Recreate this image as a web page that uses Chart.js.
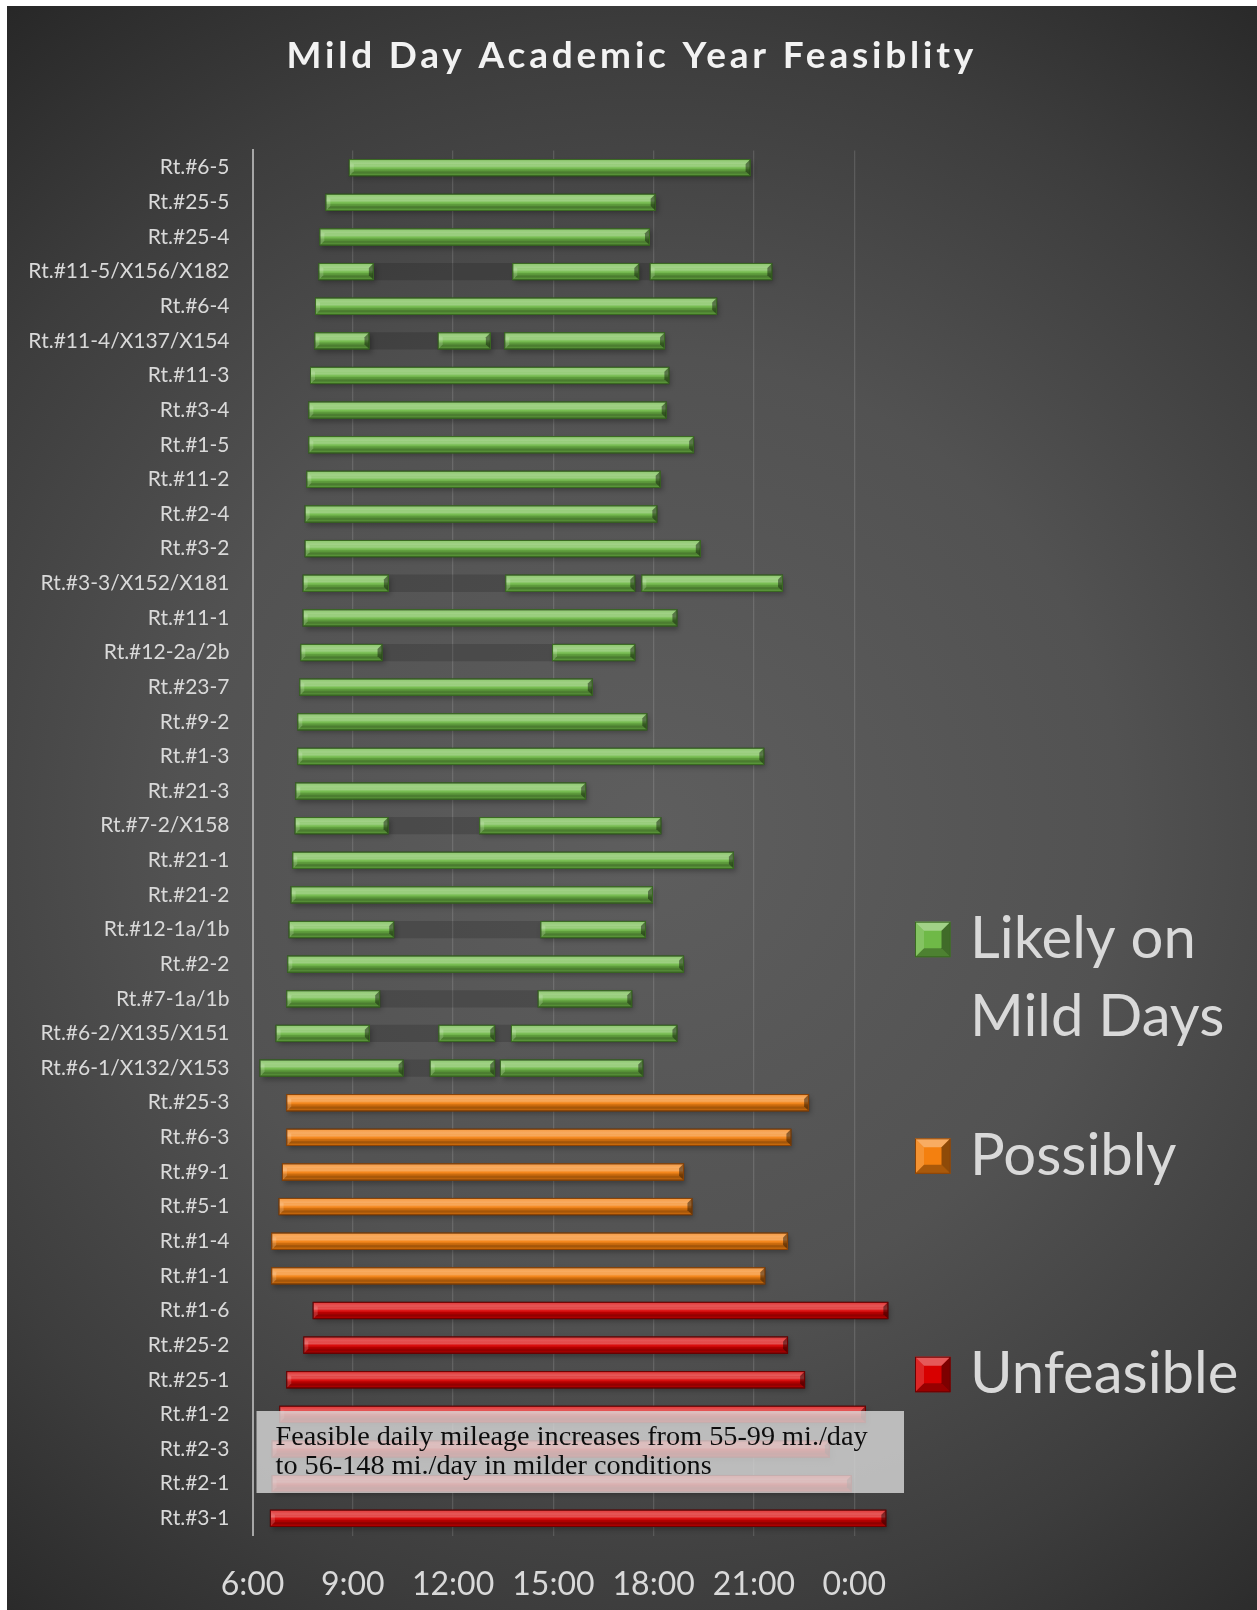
<!DOCTYPE html>
<html>
<head>
<meta charset="utf-8">
<script src="https://cdn.jsdelivr.net/npm/chart.js@4.4.1/dist/chart.umd.min.js"></script>
<style>
html,body{margin:0;padding:0;background:#ffffff;}
#wrap{position:relative;width:1257px;height:1610px;overflow:hidden;}
canvas{display:block;}
</style>
</head>
<body>
<div id="wrap"><canvas id="c" width="1257" height="1610"></canvas></div>
<script>
// ---------------- DATA ----------------
const chartTitle = 'Mild Day Academic Year Feasiblity';

const routes = [
  'Rt.#6-5','Rt.#25-5','Rt.#25-4','Rt.#11-5/X156/X182','Rt.#6-4','Rt.#11-4/X137/X154',
  'Rt.#11-3','Rt.#3-4','Rt.#1-5','Rt.#11-2','Rt.#2-4','Rt.#3-2','Rt.#3-3/X152/X181',
  'Rt.#11-1','Rt.#12-2a/2b','Rt.#23-7','Rt.#9-2','Rt.#1-3','Rt.#21-3','Rt.#7-2/X158',
  'Rt.#21-1','Rt.#21-2','Rt.#12-1a/1b','Rt.#2-2','Rt.#7-1a/1b','Rt.#6-2/X135/X151',
  'Rt.#6-1/X132/X153','Rt.#25-3','Rt.#6-3','Rt.#9-1','Rt.#5-1','Rt.#1-4','Rt.#1-1',
  'Rt.#1-6','Rt.#25-2','Rt.#25-1','Rt.#1-2','Rt.#2-3','Rt.#2-1','Rt.#3-1'
];

// hours of day (24+ = past midnight)
const window1 = [
  [8.88,20.90],[8.18,18.06],[8.00,17.89],[7.97,9.63],[7.87,19.90],[7.85,9.50],
  [7.72,18.47],[7.67,18.39],[7.67,19.21],[7.61,18.21],[7.56,18.11],[7.56,19.41],[7.50,10.08],
  [7.50,18.71],[7.43,9.89],[7.40,16.18],[7.34,17.81],[7.34,21.31],[7.28,15.98],[7.26,10.07],
  [7.19,20.40],[7.14,17.98],[7.08,10.24],[7.04,18.91],[7.01,9.82],[6.69,9.51],
  [6.21,10.52],[7.01,22.65],[7.01,22.12],[6.88,18.91],[6.78,19.16],[6.56,22.02],[6.56,21.34],
  [7.80,25.02],[7.52,22.02],[7.01,22.53],[6.80,24.35],[6.57,23.27],[6.57,23.93],[6.52,24.96]
];
const window2 = [
  null,null,null,[13.77,17.57],null,[11.54,13.13],
  null,null,null,null,null,null,[13.56,17.45],
  null,[14.96,17.45],null,null,null,null,[12.78,18.23],
  null,null,[14.61,17.77],null,[14.53,17.36],[11.56,13.26],
  [11.30,13.26],null,null,null,null,null,null,
  null,null,null,null,null,null,null
];
const window3 = [
  null,null,null,[17.88,21.55],null,[13.53,18.34],
  null,null,null,null,null,null,[17.63,21.87],
  null,null,null,null,null,null,null,
  null,null,null,null,null,[13.73,18.71],
  [13.40,17.69],null,null,null,null,null,null,
  null,null,null,null,null,null,null
];

const tierNames = ['Likely on Mild Days','Possibly','Unfeasible'];
const tierOfRoute = [
  0,0,0,0,0,0,0,0,0,0,0,0,0,0,0,0,0,0,0,0,0,0,0,0,0,0,0,
  1,1,1,1,1,1,
  2,2,2,2,2,2,2
];

const hourTicks  = [6,9,12,15,18,21,24];
const hourLabels = ['6:00','9:00','12:00','15:00','18:00','21:00','0:00'];

const noteLines = [
  'Feasible daily mileage increases from 55-99 mi./day',
  'to 56-148 mi./day in milder conditions'
];

// ---------------- STYLE ----------------
const FONT = "Lato, Carlito, 'Noto Sans', sans-serif";
const tierStyle = [
  {base:'#6fb947', edge:'#3a6a22'},
  {base:'#f4800f', edge:'#8a4306'},
  {base:'#d80000', edge:'#6e0000'}
];

function pick(arr, tier){ return arr.map((w,i) => (w && tierOfRoute[i] === tier) ? w : null); }
function gaps(a, b){ return a.map((w,i) => (w && b[i]) ? [w[1], b[i][0]] : null); }

function barSet(label, data, tier, legend){
  return {
    label, data,
    backgroundColor: tierStyle[tier].base,
    borderColor: tierStyle[tier].edge,
    borderWidth: 1,
    borderSkipped: false,
    _bevel: true, _legend: legend, _tier: tier
  };
}
function gapSet(label, data){
  return { label, data, backgroundColor:'rgba(0,0,0,0.15)', borderWidth:0, _bevel:false };
}

const datasets = [
  barSet(tierNames[0], pick(window1,0), 0, true),
  barSet(tierNames[0] + ' (2nd window)', pick(window2,0), 0, false),
  barSet(tierNames[0] + ' (3rd window)', pick(window3,0), 0, false),
  barSet(tierNames[1], pick(window1,1), 1, true),
  barSet(tierNames[2], pick(window1,2), 2, true),
  gapSet('Idle 1', gaps(window1, window2)),
  gapSet('Idle 2', gaps(window2, window3))
];

// ---------------- PLUGINS ----------------
const bgPlugin = {
  id:'bg',
  beforeDraw(chart){
    const ctx = chart.ctx, W = chart.width, H = chart.height;
    ctx.save();
    ctx.fillStyle = '#ffffff';
    ctx.fillRect(0,0,W,H);
    const g = ctx.createRadialGradient(650, 830, 0, 650, 830, 1050);
    g.addColorStop(0, '#5e5e5e');
    g.addColorStop(0.45, '#525252');
    g.addColorStop(0.75, '#3d3d3d');
    g.addColorStop(1, '#272727');
    ctx.fillStyle = g;
    ctx.fillRect(7, 6, W - 7, H - 6);
    ctx.restore();
  }
};

function barRects(chart){
  const out = [];
  chart.data.datasets.forEach((ds, di) => {
    if (!ds._bevel) return;
    const meta = chart.getDatasetMeta(di);
    meta.data.forEach((el, i) => {
      if (ds.data[i] == null) return;
      const x0 = Math.min(el.x, el.base), x1 = Math.max(el.x, el.base);
      const y0 = el.y - el.height/2, y1 = el.y + el.height/2;
      out.push({x0, x1, y0, y1, tier: ds._tier});
    });
  });
  return out;
}

const shadowPlugin = {
  id:'shadow',
  beforeDatasetsDraw(chart){
    const ctx = chart.ctx;
    ctx.save();
    ctx.shadowColor = 'rgba(0,0,0,0.55)';
    ctx.shadowBlur = 5;
    ctx.shadowOffsetX = 2;
    ctx.shadowOffsetY = 3;
    ctx.fillStyle = 'rgba(0,0,0,0.5)';
    barRects(chart).forEach(r => ctx.fillRect(r.x0, r.y0, r.x1 - r.x0, r.y1 - r.y0));
    ctx.restore();
  }
};

function bevel(ctx, x0, x1, y0, y1, b){
  const g = ctx.createLinearGradient(0, y0, 0, y1);
  g.addColorStop(0.00, 'rgba(255,255,255,0.10)');
  g.addColorStop(0.20, 'rgba(255,255,255,0.24)');
  g.addColorStop(0.40, 'rgba(255,255,255,0.32)');
  g.addColorStop(0.52, 'rgba(255,255,255,0.05)');
  g.addColorStop(0.62, 'rgba(0,0,0,0.15)');
  g.addColorStop(0.82, 'rgba(0,0,0,0.26)');
  g.addColorStop(1.00, 'rgba(0,0,0,0.02)');
  ctx.fillStyle = g;
  ctx.fillRect(x0, y0, x1 - x0, y1 - y0);
  ctx.fillStyle = 'rgba(255,255,255,0.12)';
  ctx.beginPath(); ctx.moveTo(x0,y0); ctx.lineTo(x1,y0); ctx.lineTo(x1-b,y0+b); ctx.lineTo(x0+b,y0+b); ctx.closePath(); ctx.fill();
  ctx.fillStyle = 'rgba(0,0,0,0.10)';
  ctx.beginPath(); ctx.moveTo(x0,y1); ctx.lineTo(x1,y1); ctx.lineTo(x1-b,y1-b); ctx.lineTo(x0+b,y1-b); ctx.closePath(); ctx.fill();
  ctx.fillStyle = 'rgba(255,255,255,0.16)';
  ctx.beginPath(); ctx.moveTo(x0,y0); ctx.lineTo(x0+b,y0+b); ctx.lineTo(x0+b,y1-b); ctx.lineTo(x0,y1); ctx.closePath(); ctx.fill();
  ctx.fillStyle = 'rgba(0,0,0,0.42)';
  ctx.beginPath(); ctx.moveTo(x1,y0); ctx.lineTo(x1-b,y0+b); ctx.lineTo(x1-b,y1-b); ctx.lineTo(x1,y1); ctx.closePath(); ctx.fill();
}

const bevelPlugin = {
  id:'bevel',
  afterDatasetsDraw(chart){
    const ctx = chart.ctx;
    ctx.save();
    barRects(chart).forEach(r => {
      bevel(ctx, r.x0 + 0.5, r.x1 - 0.5, r.y0 + 0.5, r.y1 - 0.5, 4.5);
      ctx.strokeStyle = tierStyle[r.tier].edge;
      ctx.lineWidth = 1;
      ctx.strokeRect(r.x0 + 0.5, r.y0 + 0.5, r.x1 - r.x0 - 1, r.y1 - r.y0 - 1);
    });
    ctx.restore();
  }
};

const decorPlugin = {
  id:'decor',
  afterDraw(chart){
    const ctx = chart.ctx;
    ctx.save();

    // title
    ctx.font = `bold 37px ${FONT}`;
    ctx.fillStyle = '#f2f2f2';
    ctx.textAlign = 'left';
    ctx.textBaseline = 'alphabetic';
    const targetW = 687;
    const w0 = ctx.measureText(chartTitle).width;
    const sp = Math.max(0, (targetW - w0) / (chartTitle.length - 1));
    ctx.letterSpacing = sp.toFixed(2) + 'px';
    ctx.fillText(chartTitle, 630 - targetW/2, 68);
    ctx.letterSpacing = '0px';

    // legend (from datasets)
    const items = chart.data.datasets.filter(d => d._legend);
    const tops = [921.7, 1138.3, 1356.7];
    const sq = 35.5, lx = 915, tx = 970, lineH = 77.7, fs = 58;
    ctx.font = `${fs}px ${FONT}`;
    items.forEach((d, k) => {
      const top = tops[k];
      const st = tierStyle[d._tier];
      ctx.fillStyle = st.base;
      ctx.fillRect(lx, top, sq, sq);
      const b = 9;
      ctx.fillStyle = 'rgba(255,255,255,0.35)';
      ctx.beginPath(); ctx.moveTo(lx,top); ctx.lineTo(lx+sq,top); ctx.lineTo(lx+sq-b,top+b); ctx.lineTo(lx+b,top+b); ctx.closePath(); ctx.fill();
      ctx.fillStyle = 'rgba(255,255,255,0.15)';
      ctx.beginPath(); ctx.moveTo(lx,top); ctx.lineTo(lx+b,top+b); ctx.lineTo(lx+b,top+sq-b); ctx.lineTo(lx,top+sq); ctx.closePath(); ctx.fill();
      ctx.fillStyle = 'rgba(0,0,0,0.30)';
      ctx.beginPath(); ctx.moveTo(lx,top+sq); ctx.lineTo(lx+sq,top+sq); ctx.lineTo(lx+sq-b,top+sq-b); ctx.lineTo(lx+b,top+sq-b); ctx.closePath(); ctx.fill();
      ctx.fillStyle = 'rgba(0,0,0,0.42)';
      ctx.beginPath(); ctx.moveTo(lx+sq,top); ctx.lineTo(lx+sq-b,top+b); ctx.lineTo(lx+sq-b,top+sq-b); ctx.lineTo(lx+sq,top+sq); ctx.closePath(); ctx.fill();
      ctx.strokeStyle = st.edge; ctx.lineWidth = 1;
      ctx.strokeRect(lx+0.5, top+0.5, sq-1, sq-1);
      const words = d.label.split(' ');
      const lines = []; let cur = '';
      words.forEach(w => {
        const t = cur ? cur + ' ' + w : w;
        if (ctx.measureText(t).width > 285 && cur) { lines.push(cur); cur = w; } else cur = t;
      });
      if (cur) lines.push(cur);
      ctx.fillStyle = '#d9d9d9';
      lines.forEach((ln, j) => ctx.fillText(ln, tx, top + sq + 1 + j*lineH));
    });

    // note box
    ctx.fillStyle = 'rgba(218,218,218,0.80)';
    ctx.fillRect(256.5, 1411, 647.5, 82);
    let nfs = 28;
    ctx.font = `${nfs}px 'Liberation Serif', 'DejaVu Serif', serif`;
    const nw = ctx.measureText(noteLines[0]).width;
    nfs = nfs * 592 / nw;
    ctx.font = `${nfs.toFixed(2)}px 'Liberation Serif', 'DejaVu Serif', serif`;
    ctx.fillStyle = '#0d0d0d';
    ctx.fillText(noteLines[0], 275.6, 1445);
    ctx.fillText(noteLines[1], 275.6, 1474);

    ctx.restore();
  }
};

// ---------------- CHART ----------------
new Chart(document.getElementById('c'), {
  type:'bar',
  data:{ labels: routes, datasets },
  options:{
    indexAxis:'y',
    responsive:false,
    animation:false,
    devicePixelRatio:1,
    layout:{ padding:{ top:150.4, right:352.6, bottom:0, left:0 } },
    datasets:{ bar:{ grouped:false, barPercentage:0.5, categoryPercentage:1.0 } },
    plugins:{ legend:{display:false}, tooltip:{enabled:false}, title:{display:false} },
    scales:{
      x:{
        type:'linear', position:'bottom', min:6, max:25.5,
        afterBuildTicks: s => { s.ticks = hourTicks.map(v => ({value:v})); },
        afterFit: s => { s.height = 74.4; },
        grid:{ color:'rgba(255,255,255,0.13)', lineWidth:1.3, drawTicks:false },
        border:{ display:false },
        ticks:{
          color:'#d9d9d9', font:{ family:FONT, size:32 }, padding:30,
          maxRotation:0, autoSkip:false, includeBounds:false,
          callback: v => { const k = hourTicks.indexOf(v); return k >= 0 ? hourLabels[k] : ''; }
        }
      },
      y:{
        type:'category',
        afterFit: s => { s.width = 252.5; },
        grid:{ display:false, drawTicks:false },
        border:{ display:true, color:'#a6a6a6', width:2 },
        ticks:{ color:'#d9d9d9', font:{ family:FONT, size:21 }, padding:23, autoSkip:false }
      }
    }
  },
  plugins:[bgPlugin, shadowPlugin, bevelPlugin, decorPlugin]
});
</script>
</body>
</html>
